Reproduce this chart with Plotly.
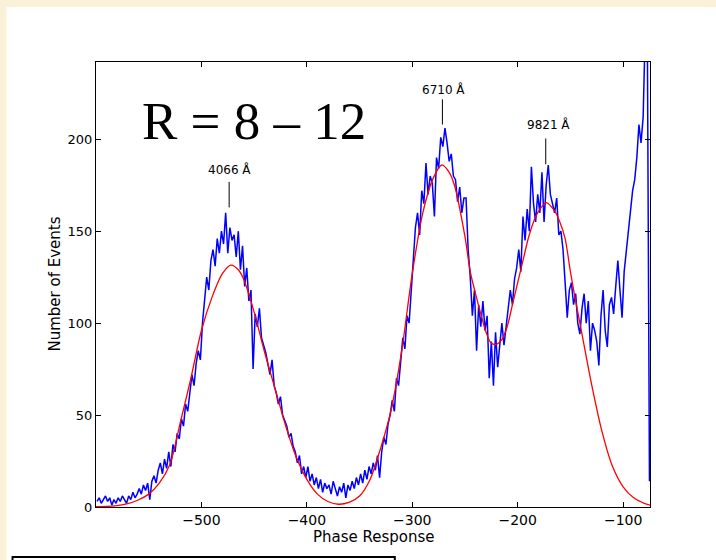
import plotly.graph_objects as go

# ---------------- data ----------------
phase = list(range(-599, -74, 2))  # histogram bin centres (2-unit bins)
counts = [
    3, 5, 2, 4, 6,
    3, 5, 1, 4, 2,
    5, 3, 6, 4, 2,
    6, 4, 8, 5, 7,
    10, 7, 12, 9, 13,
    4, 14, 17, 13, 20,
    24, 18, 26, 21, 30,
    22, 34, 30, 40, 37,
    48, 44, 56, 52, 62,
    72, 66, 78, 85, 80,
    100, 112, 125, 118, 134,
    140, 131, 146, 138, 150,
    143, 160, 138, 152, 145,
    148, 136, 150, 129, 142,
    120, 130, 112, 118, 75,
    105, 98, 108, 92, 88,
    84, 78, 72, 80, 66,
    62, 56, 60, 50, 47,
    44, 38, 40, 33, 30,
    24, 28, 18, 22, 16,
    22, 14, 18, 12, 16,
    10, 15, 8, 13, 10,
    12, 7, 14, 10, 6,
    11, 8, 13, 5, 12,
    9, 14, 10, 16, 12,
    18, 13, 20, 15, 22,
    18, 24, 20, 28, 16,
    30, 38, 34, 45, 50,
    58, 52, 70, 66, 80,
    92, 86, 104, 100, 118,
    140, 152, 160, 148, 172,
    165, 187, 170, 180, 176,
    158, 190, 184, 201, 196,
    206, 198, 188, 192, 180,
    178, 166, 174, 160, 168,
    168, 140, 125, 104, 118,
    85, 110, 98, 112, 96,
    104, 70, 90, 66, 95,
    76, 90, 100, 88, 98,
    106, 118, 110, 124, 130,
    140, 128, 158, 145, 162,
    150, 185, 165, 155, 170,
    160, 182, 155, 175, 186,
    170, 165, 160, 168, 148,
    150, 140, 122, 103, 118,
    122, 110, 116, 100, 94,
    108, 116, 100, 112, 85,
    100, 96, 90, 77, 104,
    118, 96, 87, 110, 114,
    105, 120, 134, 118, 103,
    128, 140, 150, 162, 172,
    178, 190, 208, 198, 212,
    260, 255, 14,
]

fit_phase = [-600, -590, -580, -570, -560, -550, -540, -530, -520, -510,
             -500, -490, -480, -472, -465, -460, -450, -440, -430, -420,
             -410, -400, -390, -380, -370, -360, -350, -340, -330, -320,
             -310, -300, -290, -280, -272, -265, -260, -250, -245, -240,
             -235, -230, -225, -220, -215, -210, -205, -200, -195, -190,
             -185, -180, -173, -165, -160, -155, -150, -145, -140, -130,
             -120, -110, -100, -90, -80, -74.5]
fit_counts = [0.2, 0.3, 0.8, 1.8, 3.8, 7, 13, 23, 46, 70,
              96, 114, 127, 131.5, 129, 124, 106, 84, 64, 44,
              27, 15, 7, 3, 1.5, 2.5, 6, 15, 32, 53,
              85, 127, 160, 179, 186, 182, 175, 147, 128, 116,
              105, 95, 89, 88.5, 91, 98, 110, 122, 134, 146,
              155, 161, 165.5, 161, 155, 146, 128, 112, 97, 67,
              41, 22, 11, 5, 2, 1]

line_labels = ["4066 Å", "6710 Å", "9821 Å"]
line_phase = [-473.7, -271.4, -173.4]
label_phase = [-473.7, -270.0, -171.1]
label_y = [183.5, 227.0, 208.0]
marker_top = [176.8, 221.7, 200.4]
marker_bottom = [162.9, 208.0, 186.4]

x_ticks = [-500, -400, -300, -200, -100]
y_ticks = [0, 50, 100, 150, 200]
x_range = [-600, -74.5]
y_range = [0, 242]

# ---------------- layout helpers ----------------
W, H = 716, 560
L, R, T, B = 96.4, 650.0, 62.0, 507.0


def px(x):
    return (x - L) / (R - L)


def py(y):
    return (B - y) / (B - T)


fig = go.Figure()
fig.add_trace(go.Scatter(x=phase, y=counts, mode="lines",
                         line=dict(color="#0000FF", width=1.5),
                         hoverinfo="skip", showlegend=False))
fig.add_trace(go.Scatter(x=fit_phase, y=fit_counts, mode="lines",
                         line=dict(color="#FF0000", width=1.3, shape="spline", smoothing=0.8),
                         hoverinfo="skip", showlegend=False))

# white panel on cream background
fig.add_shape(type="rect", xref="paper", yref="paper",
              x0=px(7), x1=px(730), y0=py(580), y1=py(7),
              fillcolor="white", line_width=0, layer="below")
# partial box at the bottom left
fig.add_shape(type="rect", xref="paper", yref="paper",
              x0=px(13), x1=px(395), y0=py(590), y1=py(557),
              fillcolor="rgba(0,0,0,0)", line=dict(color="black", width=2))

for lp, top, bot in zip(line_phase, marker_top, marker_bottom):
    fig.add_shape(type="line", xref="x", yref="y", x0=lp, x1=lp, y0=bot, y1=top,
                  line=dict(color="black", width=1))
for txt, lx, ly in zip(line_labels, label_phase, label_y):
    fig.add_annotation(x=lx, y=ly, xref="x", yref="y", text=txt, showarrow=False,
                       font=dict(family="DejaVu Sans", size=12, color="black"),
                       xanchor="center", yanchor="middle")

fig.add_annotation(x=px(254.5), y=py(121), xref="paper", yref="paper",
                   text="R = 8 – 12", showarrow=False,
                   font=dict(family="Liberation Serif", size=53, color="black"),
                   xanchor="center", yanchor="middle")

fig.add_annotation(x=px(374), y=py(537), xref="paper", yref="paper",
                   text="Phase Response", showarrow=False,
                   font=dict(family="DejaVu Sans", size=15, color="black"),
                   xanchor="center", yanchor="middle")
fig.add_annotation(x=px(55), y=py(284), xref="paper", yref="paper",
                   text="Number of Events", showarrow=False, textangle=-90,
                   font=dict(family="DejaVu Sans", size=15, color="black"),
                   xanchor="center", yanchor="middle")

axis_common = dict(showgrid=False, zeroline=False, showline=True, linecolor="black",
                   linewidth=1, mirror="ticks", ticks="inside", ticklen=5,
                   tickcolor="black", tickwidth=1)

fig.update_layout(
    width=W, height=H,
    margin=dict(l=L, r=W - R, t=T, b=H - B, pad=0),
    paper_bgcolor="#FBF0D8",
    plot_bgcolor="white",
    xaxis=dict(range=x_range, tickvals=x_ticks,
               tickfont=dict(family="DejaVu Sans", size=14, color="black"), **axis_common),
    yaxis=dict(range=y_range, tickvals=y_ticks,
               tickfont=dict(family="DejaVu Sans", size=13, color="black"), **axis_common),
    showlegend=False,
)

fig.write_html("out.html", config={"displayModeBar": False},
               post_script="document.body.style.margin='0';document.body.style.overflow='hidden';")
